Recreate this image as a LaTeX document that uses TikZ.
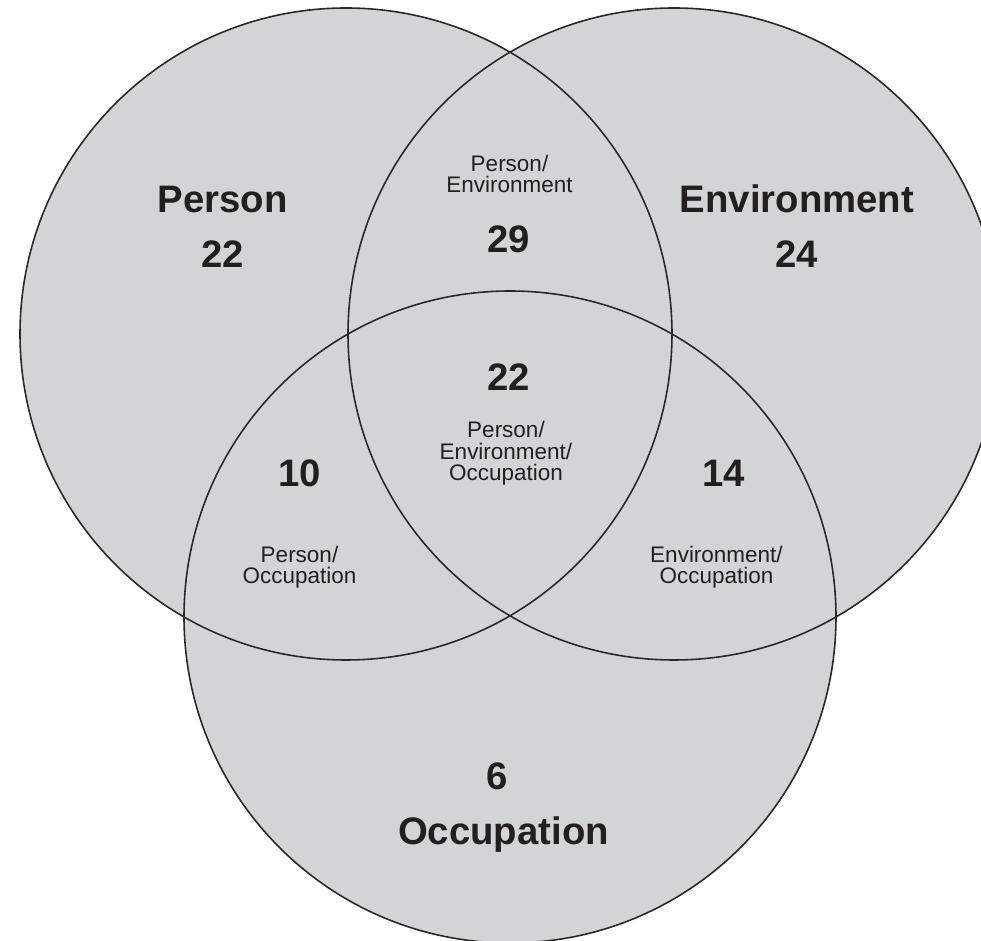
\documentclass[tikz,border=0pt]{standalone}
\usepackage{xcolor}
\usepackage{fontspec}
\setmainfont{Liberation Sans}
\usepackage{tikz}
\usetikzlibrary{positioning}
\definecolor{vennfill}{RGB}{211,212,214}
\definecolor{vennline}{RGB}{40,40,40}
\definecolor{venntext}{RGB}{35,31,32}

\begin{document}
\begin{tikzpicture}[
    setname/.style={font=\fontsize{21.8}{26}\selectfont\bfseries, text=venntext, inner sep=0pt, anchor=base},
    overlap/.style={font=\fontsize{12.8}{12.5}\selectfont, text=venntext, align=center, inner sep=0pt, anchor=base}]
            \useasboundingbox (0,0) rectangle (19.62,18.82);
            \clip (0,0) rectangle (19.62,18.82);
            \coordinate (pers) at (6.92,12.14);
            \coordinate (envi) at (13.48,12.14);
            \coordinate (occu) at (10.20,6.48);
            \fill[vennfill] (pers) circle (6.52) (envi) circle (6.52) (occu) circle (6.52);
            \draw[vennline, line width=0.9pt] (pers) circle (6.52) (envi) circle (6.52) (occu) circle (6.52);
            \node[setname] at (4.45,14.56) (person) {Person};
            \node[setname] at (4.46,13.46) (personn) {22};
            \node[setname] at (15.94,14.56) (environment) {Environment};
            \node[setname] at (15.94,13.46) (environmentn) {24};
            \node[setname] at (10.07,1.92) (occupation) {Occupation};
            \node[setname] at (9.94,3.02) (occupationn) {6};
            \node[overlap] at (10.19,14.96) (pe) {Person/\\Environment};
            \node[setname] at (10.18,13.76) (pen) {29};
            \node[setname] at (10.18,11.00) (peon) {22};
            \node[overlap] at (10.12,9.20) (peo) {Person/\\Environment/\\Occupation};
            \node[setname] at (6.00,9.08) (pon) {10};
            \node[overlap] at (5.99,7.14) (po) {Person/\\Occupation};
            \node[setname] at (14.47,9.08) (eon) {14};
            \node[overlap] at (14.33,7.14) (eo) {Environment/\\Occupation};
        \end{tikzpicture}
\end{document}
